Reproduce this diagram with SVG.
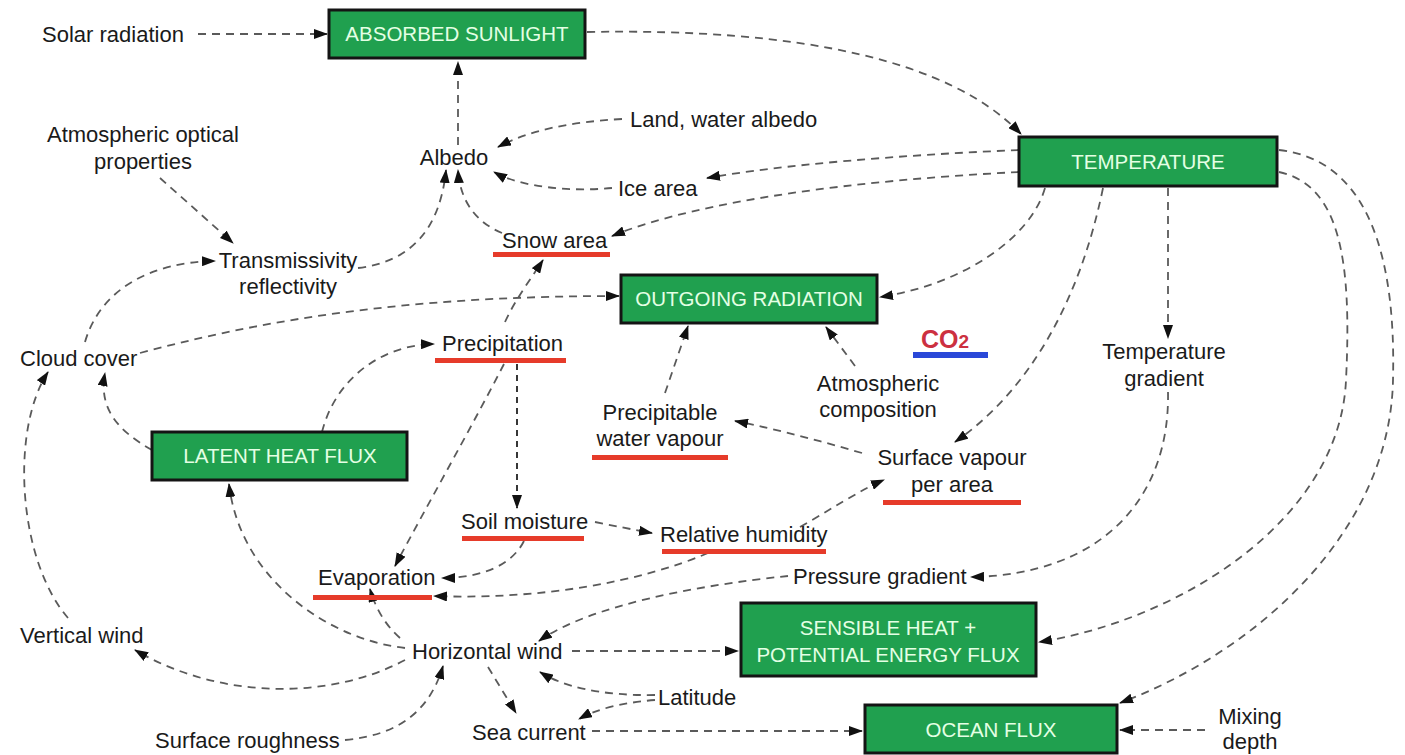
<svg xmlns="http://www.w3.org/2000/svg" width="1405" height="755" viewBox="0 0 1405 755">
<style>
.bg{fill:#ffffff}
.box rect{fill:#20a04f;stroke:#141414;stroke-width:3}
.box text{font-family:"Liberation Sans",Arial,sans-serif;font-size:20.5px;fill:#e4ffe4;text-anchor:middle}
.lbl{font-family:"Liberation Sans",Arial,sans-serif;font-size:22px;fill:#1a1a1a}
.mid{text-anchor:middle}
.ul{fill:#e63b2a}
.c path{fill:none;stroke:#5a5a5a;stroke-width:1.8;stroke-dasharray:8 6;marker-end:url(#ah)}
.c path.dk{stroke:#222;stroke-dasharray:6 5}
</style>
<defs>
<marker id="ah" viewBox="0 0 14 10" refX="13" refY="5" markerWidth="14" markerHeight="10" markerUnits="userSpaceOnUse" orient="auto">
<path d="M0,0 L14,5 L0,10 z" fill="#111"/>
</marker>
</defs>
<rect class="bg" x="0" y="0" width="1405" height="755"/>

<g id="connectors" class="c">
<path d="M198,34 L327,34"/>
<path d="M587,32 C800,28 950,60 1021,134"/>
<path d="M458,145 L458,62"/>
<path d="M622,119 C570,122 530,130 498,147"/>
<path d="M1019,150 C900,155 780,165 707,178"/>
<path d="M1019,172 C860,180 700,200 612,236"/>
<path d="M612,188 C570,192 520,187 494,172"/>
<path d="M502,233 C475,222 460,200 458,170"/>
<path d="M358,268 C410,262 440,230 446,170"/>
<path d="M160,178 L233,243"/>
<path d="M85,342 C100,290 150,262 215,261"/>
<path d="M140,353 C300,310 450,296 619,296"/>
<path d="M152,450 C120,432 98,410 105,373"/>
<path d="M68,618 C18,560 10,430 48,372"/>
<path d="M322,432 C335,380 380,345 434,344"/>
<path d="M505,322 C515,300 530,280 543,260"/>
<path d="M504,364 C470,430 430,500 395,566"/>
<path class="dk" d="M517,364 L517,508"/>
<path d="M595,522 C615,526 635,530 652,533"/>
<path d="M524,541 C512,565 482,578 442,578"/>
<path d="M708,553 C640,582 540,600 434,596"/>
<path d="M800,527 C830,510 860,490 884,480"/>
<path d="M862,453 C820,441 780,430 735,421"/>
<path d="M665,393 L688,326"/>
<path d="M855,366 L826,327"/>
<path d="M1045,188 C1030,240 960,285 880,297"/>
<path d="M1103,188 C1080,300 1030,390 955,442"/>
<path d="M1168,188 L1168,338"/>
<path d="M1168,392 C1170,500 1100,575 971,577"/>
<path d="M1279,172 C1340,185 1352,260 1346,380 C1340,520 1180,620 1039,642"/>
<path d="M1279,150 C1370,160 1396,260 1393,380 C1390,530 1260,650 1120,703"/>
<path d="M572,651 L738,651"/>
<path d="M788,576 C700,585 590,605 539,641"/>
<path d="M405,648 C330,640 240,580 229,484"/>
<path d="M400,638 C385,625 375,607 370,589"/>
<path d="M405,660 C330,700 220,700 135,650"/>
<path d="M345,740 C400,735 430,710 443,666"/>
<path d="M488,667 L516,713"/>
<path d="M655,695 C600,696 562,686 540,672"/>
<path d="M655,700 C620,703 597,709 579,719"/>
<path d="M592,731 L862,731"/>
<path d="M1205,730 L1120,730"/>
</g>

<g id="absorbed-sunlight" class="box"><rect x="329" y="10" width="256" height="48"/><text x="457" y="41">ABSORBED SUNLIGHT</text></g>
<g id="temperature" class="box"><rect x="1019" y="137" width="258" height="49"/><text x="1148" y="169">TEMPERATURE</text></g>
<g id="outgoing-radiation" class="box"><rect x="621" y="275" width="256" height="48"/><text x="749" y="306">OUTGOING RADIATION</text></g>
<g id="latent-heat-flux" class="box"><rect x="152" y="432" width="255" height="48"/><text x="280" y="463">LATENT HEAT FLUX</text></g>
<g id="sensible-heat" class="box"><rect x="741" y="603" width="295" height="73"/><text x="888" y="635">SENSIBLE HEAT +</text><text x="888" y="662">POTENTIAL ENERGY FLUX</text></g>
<g id="ocean-flux" class="box"><rect x="865" y="705" width="252" height="48"/><text x="991" y="737">OCEAN FLUX</text></g>

<g id="solar-radiation"><text class="lbl" x="42" y="42">Solar radiation</text></g>
<g id="land-water-albedo"><text class="lbl" x="630" y="127">Land, water albedo</text></g>
<g id="atmospheric-optical"><text class="lbl mid" x="143" y="142">Atmospheric optical</text><text class="lbl mid" x="143" y="169">properties</text></g>
<g id="albedo"><text class="lbl mid" x="454" y="165">Albedo</text></g>
<g id="ice-area"><text class="lbl" x="618" y="196">Ice area</text></g>
<g id="snow-area"><text class="lbl" x="502" y="248">Snow area</text><rect class="ul" x="493" y="252" width="117" height="5"/></g>
<g id="transmissivity"><text class="lbl mid" x="288" y="268">Transmissivity</text><text class="lbl mid" x="288" y="294">reflectivity</text></g>
<g id="cloud-cover"><text class="lbl" x="20" y="366">Cloud cover</text></g>
<g id="precipitation"><text class="lbl" x="442" y="351">Precipitation</text><rect class="ul" x="435" y="358" width="131" height="5"/></g>
<g id="co2"><text x="921" y="348" font-family="Liberation Sans,Arial,sans-serif" font-size="25" font-weight="bold" fill="#cc3040">CO<tspan font-size="19">2</tspan></text><rect x="913" y="352" width="75" height="6" fill="#2a48d8"/></g>
<g id="atmospheric-composition"><text class="lbl mid" x="878" y="391">Atmospheric</text><text class="lbl mid" x="878" y="417">composition</text></g>
<g id="temperature-gradient"><text class="lbl mid" x="1164" y="359">Temperature</text><text class="lbl mid" x="1164" y="386">gradient</text></g>
<g id="precipitable-water-vapour"><text class="lbl mid" x="660" y="420">Precipitable</text><text class="lbl mid" x="660" y="446">water vapour</text><rect class="ul" x="592" y="455" width="136" height="5"/></g>
<g id="surface-vapour"><text class="lbl mid" x="952" y="465">Surface vapour</text><text class="lbl mid" x="952" y="492">per area</text><rect class="ul" x="883" y="500" width="138" height="5"/></g>
<g id="soil-moisture"><text class="lbl" x="461" y="529">Soil moisture</text><rect class="ul" x="462" y="536" width="122" height="5"/></g>
<g id="relative-humidity"><text class="lbl" x="660" y="542">Relative humidity</text><rect class="ul" x="662" y="549" width="164" height="5"/></g>
<g id="evaporation"><text class="lbl" x="318" y="585">Evaporation</text><rect class="ul" x="313" y="595" width="119" height="5"/></g>
<g id="pressure-gradient"><text class="lbl" x="793" y="584">Pressure gradient</text></g>
<g id="vertical-wind"><text class="lbl" x="20" y="643">Vertical wind</text></g>
<g id="horizontal-wind"><text class="lbl" x="412" y="659">Horizontal wind</text></g>
<g id="latitude"><text class="lbl" x="658" y="705">Latitude</text></g>
<g id="surface-roughness"><text class="lbl" x="155" y="748">Surface roughness</text></g>
<g id="sea-current"><text class="lbl" x="472" y="740">Sea current</text></g>
<g id="mixing-depth"><text class="lbl mid" x="1250" y="724">Mixing</text><text class="lbl mid" x="1250" y="749">depth</text></g>
</svg>
